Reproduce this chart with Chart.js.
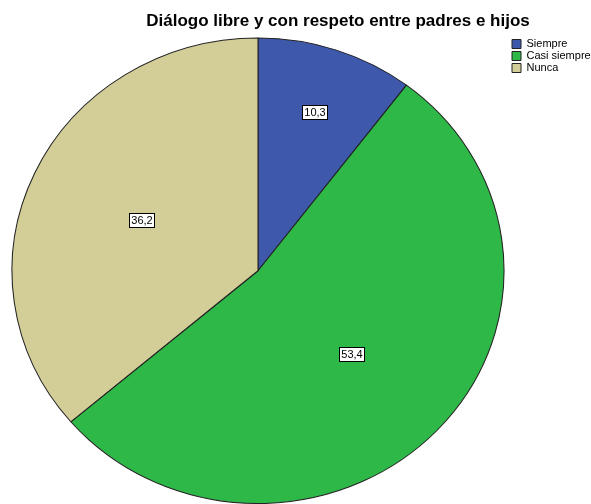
<!DOCTYPE html>
<html>
<head>
<meta charset="utf-8">
<script src="https://cdn.jsdelivr.net/npm/chart.js@4.4.1/dist/chart.umd.min.js"></script>
<style>
  html, body { margin: 0; padding: 0; background: #fff; }
  canvas { display: block; }
</style>
</head>
<body>
<canvas id="chart" width="591" height="504"></canvas>
<script>
// Chart data
const chartTitle = 'Diálogo libre y con respeto entre padres e hijos';
const categories = ['Siempre', 'Casi siempre', 'Nunca'];
const percentages = [10.3, 53.4, 36.2];
const sliceColors = ['#3e58ac', '#2eb848', '#d3ce97'];

// the original pie is a little wider than it is tall
const stretchX = 1.057;
const fontFamily = '"Liberation Sans", Arial, sans-serif';

function formatValue(v) {
  return v.toFixed(1).replace('.', ',');
}

// stretch the pie horizontally around its centre
const ovalPie = {
  id: 'ovalPie',
  beforeDatasetsDraw(chart) {
    const arc = chart.getDatasetMeta(0).data[0];
    const ctx = chart.ctx;
    ctx.save();
    ctx.translate(arc.x, 0);
    ctx.scale(stretchX, 1);
    ctx.translate(-arc.x, 0);
  },
  afterDatasetsDraw(chart) {
    chart.ctx.restore();
  }
};

// boxed value labels inside each slice
const sliceLabels = {
  id: 'sliceLabels',
  afterDatasetsDraw(chart) {
    const ctx = chart.ctx;
    const total = percentages.reduce((a, b) => a + b, 0);
    chart.getDatasetMeta(0).data.forEach((arc, i) => {
      const mid = (arc.startAngle + arc.endAngle) / 2;
      const f = percentages[i] / total < 0.15 ? 0.72 : 0.52;
      const x = arc.x + Math.cos(mid) * arc.outerRadius * f * stretchX;
      const y = arc.y + Math.sin(mid) * arc.outerRadius * f;
      const text = formatValue(percentages[i]);
      ctx.save();
      ctx.font = '11px ' + fontFamily;
      const w = Math.round(ctx.measureText(text).width + 4);
      const h = 14;
      const bx = Math.round(x - w / 2) + 0.5;
      const by = Math.round(y - h / 2) + 0.5;
      ctx.fillStyle = '#fff';
      ctx.fillRect(bx, by, w, h);
      ctx.strokeStyle = '#000';
      ctx.lineWidth = 1;
      ctx.strokeRect(bx, by, w, h);
      ctx.fillStyle = '#000';
      ctx.textAlign = 'center';
      ctx.textBaseline = 'middle';
      ctx.fillText(text, bx + w / 2, by + h / 2 + 0.5);
      ctx.restore();
    });
  }
};

// title, centred over the original plot frame
const titleText = {
  id: 'titleText',
  afterDraw(chart) {
    const ctx = chart.ctx;
    ctx.save();
    ctx.font = 'bold 17px ' + fontFamily;
    ctx.fillStyle = '#000';
    ctx.textAlign = 'center';
    ctx.textBaseline = 'alphabetic';
    ctx.fillText(chartTitle, 338, 26);
    ctx.restore();
  }
};

const ctx = document.getElementById('chart').getContext('2d');
new Chart(ctx, {
  type: 'pie',
  data: {
    labels: categories,
    datasets: [{
      data: percentages,
      backgroundColor: sliceColors,
      borderColor: '#222',
      borderWidth: 1,
      clip: false
    }]
  },
  options: {
    responsive: false,
    animation: false,
    events: [],
    layout: { padding: { top: 37.5, bottom: 0, left: 5, right: 0 } },
    plugins: {
      legend: {
        position: 'right',
        align: 'start',
        maxWidth: 80,
        labels: {
          boxWidth: 9,
          boxHeight: 9,
          padding: 1,
          color: '#000',
          font: { size: 11, family: fontFamily }
        }
      },
      title: { display: false },
      tooltip: { enabled: false }
    }
  },
  plugins: [ovalPie, sliceLabels, titleText]
});
</script>
</body>
</html>
